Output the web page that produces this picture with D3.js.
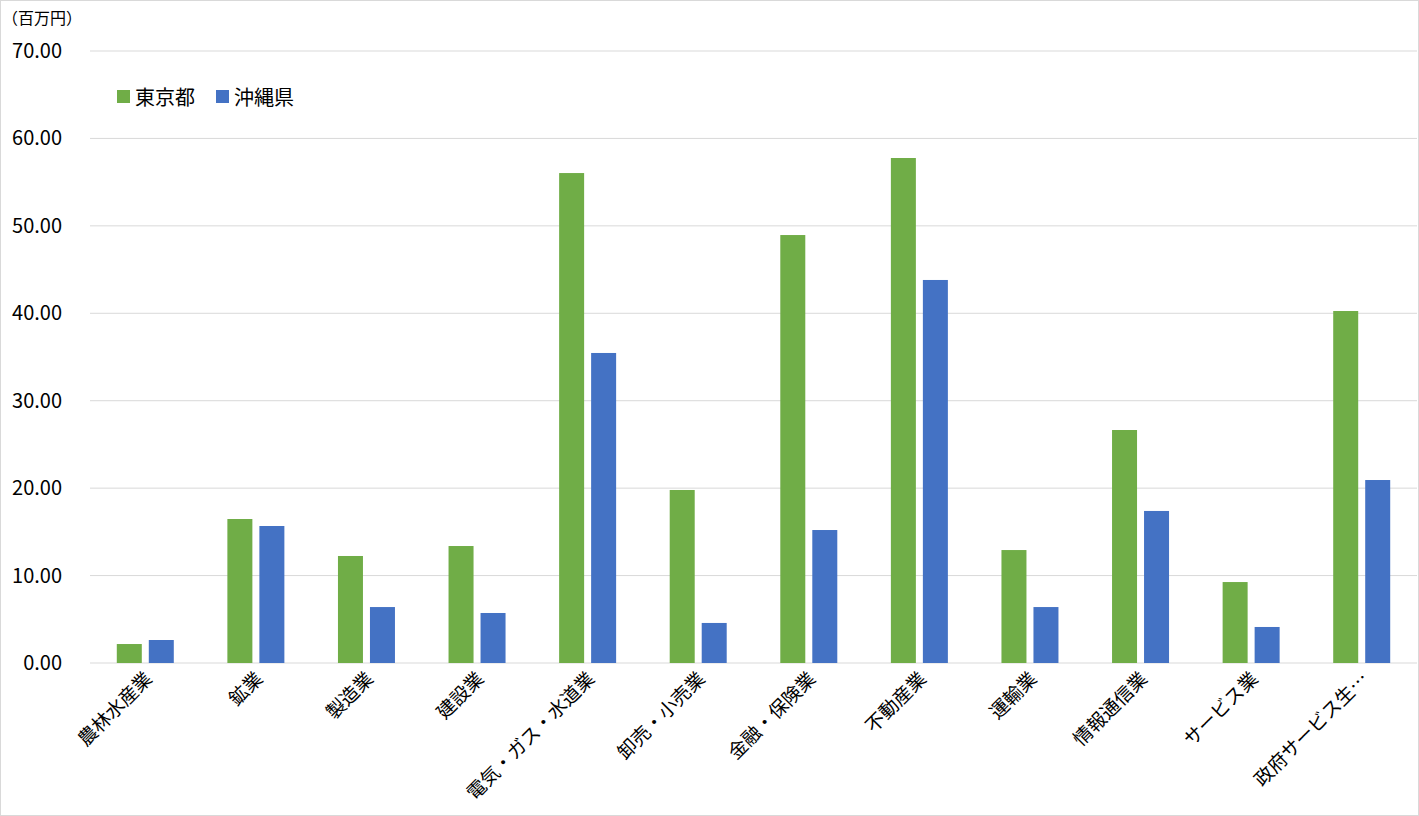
<!DOCTYPE html><html><head><meta charset="utf-8">
<script src="https://cdn.jsdelivr.net/npm/d3@7"></script>
<style>body{margin:0;background:#fff}svg{font-family:"Noto Sans CJK JP","Noto Sans",sans-serif}</style></head><body>
<svg id="c" width="1419" height="816"></svg>
<script>
const categories=["農林水産業","鉱業","製造業","建設業","電気・ガス・水道業","卸売・小売業","金融・保険業","不動産業","運輸業","情報通信業","サービス業","政府サービス生…"];
const tokyo=[2.17,16.47,12.24,13.38,56.04,19.79,48.95,57.76,12.92,26.65,9.26,40.26];
const okinawa=[2.63,15.67,6.40,5.72,35.46,4.58,15.21,43.81,6.40,17.39,4.12,20.93];
const seriesNames=["東京都","沖縄県"];
const colors=["#70ad47","#4472c4"];
const yTicks=[0,10,20,30,40,50,60,70];
const svg=d3.select("#c");
svg.append("rect").attr("x",0.5).attr("y",0.5).attr("width",1418).attr("height",815).attr("fill","#fff").attr("stroke","#d9d9d9");
const x=d3.scaleBand().domain(categories).range([90,1417]);
const y=d3.scaleLinear().domain([0,70]).range([663,51]);
svg.append("g").selectAll("line").data(yTicks).join("line")
 .attr("x1",90).attr("x2",1417).attr("y1",d=>y(d)).attr("y2",d=>y(d)).attr("stroke","#d9d9d9");
svg.append("g").selectAll("text").data(yTicks).join("text")
 .attr("x",62).attr("y",d=>y(d)+7).attr("text-anchor","end").attr("font-size",20).attr("fill","#000").text(d=>d.toFixed(2));
const bw=25,gap=7;
[tokyo,okinawa].forEach((vals,si)=>{
 svg.append("g").selectAll("rect").data(vals).join("rect")
  .attr("x",(d,i)=>x(categories[i])+x.bandwidth()/2-bw-gap/2+si*(bw+gap))
  .attr("width",bw).attr("y",d=>y(d)).attr("height",d=>y(0)-y(d)).attr("fill",colors[si]);
});
svg.append("g").selectAll("text").data(categories).join("text")
 .attr("transform",d=>`translate(${x(d)+x.bandwidth()/2+8},${680}) rotate(-45)`)
 .attr("text-anchor","end").attr("font-size",19).attr("fill","#000").text(d=>d);
svg.append("text").attr("x",2).attr("y",24).attr("font-size",16).text("（百万円）");
const lg=svg.append("g");
seriesNames.forEach((n,i)=>{
 const ox=117+i*99;
 lg.append("rect").attr("x",ox).attr("y",90).attr("width",13).attr("height",13).attr("fill",colors[i]);
 lg.append("text").attr("x",ox+18).attr("y",105).attr("font-size",20).text(n);
});
</script></body></html>
